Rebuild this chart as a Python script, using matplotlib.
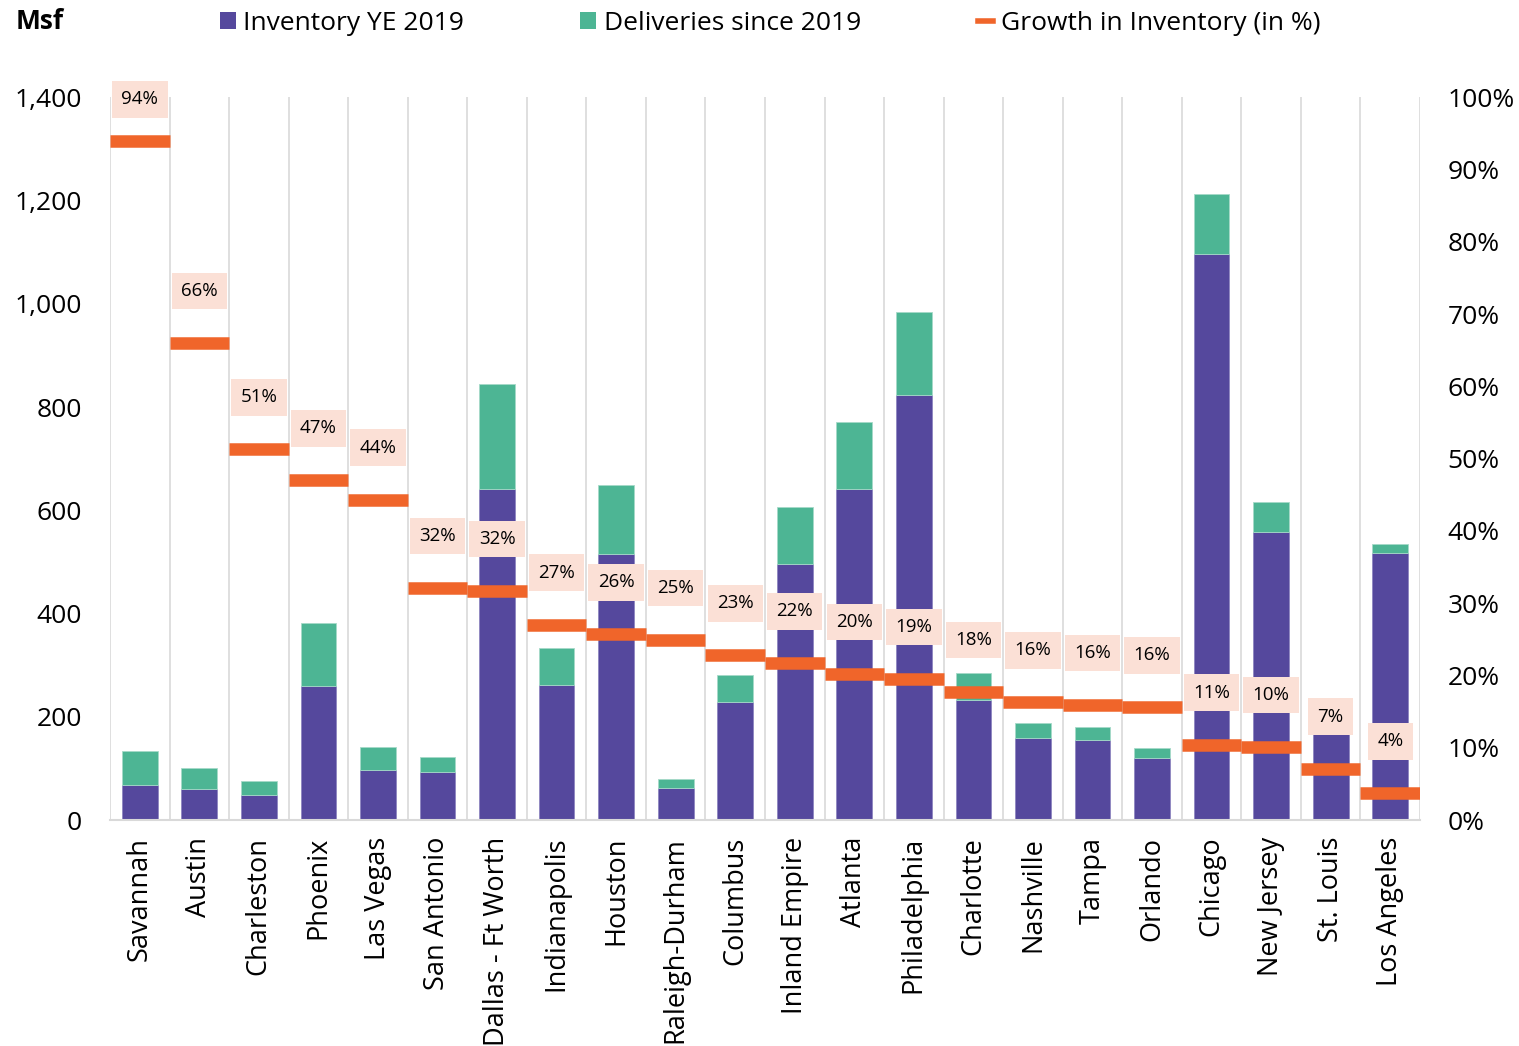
import matplotlib.pyplot as plt
from matplotlib.lines import Line2D
from matplotlib.patches import Patch

plt.rcParams['font.family'] = ['Open Sans', 'DejaVu Sans']

# data
markets = ["Savannah", "Austin", "Charleston", "Phoenix", "Las Vegas", "San Antonio",
           "Dallas - Ft Worth", "Indianapolis", "Houston", "Raleigh-Durham", "Columbus",
           "Inland Empire", "Atlanta", "Philadelphia", "Charlotte", "Nashville", "Tampa",
           "Orlando", "Chicago", "New Jersey", "St. Louis", "Los Angeles"]
inventory = [68, 60, 48, 259, 97, 93, 641, 261, 515, 62, 228,
             496, 641, 823, 232, 159, 155, 120, 1096, 558, 168, 517]
deliveries = [66, 41, 27, 122, 44, 29, 203, 72, 134, 17, 53,
              110, 130, 161, 53, 29, 25, 19, 116, 58, 4, 17]
growth = [94.0, 66.0, 51.3, 47.0, 44.3, 32.1, 31.7, 27.0, 25.7, 24.9, 22.8,
          21.7, 20.2, 19.5, 17.7, 16.3, 15.9, 15.6, 10.4, 10.1, 7.1, 3.7]
growth_labels = ["94%", "66%", "51%", "47%", "44%", "32%", "32%", "27%", "26%", "25%", "23%",
                 "22%", "20%", "19%", "18%", "16%", "16%", "16%", "11%", "10%", "7%", "4%"]

PURPLE = "#55489D"
GREEN = "#4DB594"
ORANGE = "#F0652A"
PEACH = "#FBE0D6"

fig = plt.figure(figsize=(15.19, 10.46), dpi=100)
ax = fig.add_axes([0.0724, 0.216, 0.8624, 0.691])
x = list(range(len(markets)))

ax.bar(x, inventory, width=0.6, color=PURPLE, edgecolor="#8E86C0", linewidth=0.6, zorder=2)
ax.bar(x, deliveries, width=0.6, bottom=inventory, color=GREEN, edgecolor="#A5DAC8",
       linewidth=0.6, zorder=2)

ax.set_ylim(0, 1400)
ax.set_xlim(-0.5, len(markets) - 0.5)
ax.set_yticks(range(0, 1401, 200))
ax.set_yticklabels([f"{v:,}" for v in range(0, 1401, 200)])
ax.tick_params(axis="y", length=0, labelsize=19, pad=20)
ax.set_xticks(x)
ax.set_xticklabels(markets, rotation=90, fontsize=19.5)
ax.tick_params(axis="x", length=0, pad=12)
for i in range(len(markets) + 1):
    ax.axvline(i - 0.5, color="#D9D9D9", lw=1.2, zorder=0)
for s in ["top", "left", "right"]:
    ax.spines[s].set_visible(False)
ax.spines["bottom"].set_color("#D9D9D9")
ax.spines["bottom"].set_linewidth(1.5)

ax2 = ax.twinx()
ax2.set_ylim(0, 100)
ax2.set_yticks(range(0, 101, 10))
ax2.set_yticklabels([f"{v}%" for v in range(0, 101, 10)])
ax2.tick_params(axis="y", length=0, labelsize=19, pad=20)
for s in ["top", "left", "right", "bottom"]:
    ax2.spines[s].set_visible(False)

ax2.hlines(growth, [i - 0.5 for i in x], [i + 0.5 for i in x], color=ORANGE, lw=9, zorder=3)
for i, g, lab in zip(x, growth, growth_labels):
    ax2.text(i, min(g + 7.2, 99.7), lab, ha="center", va="center", fontsize=13.5, zorder=4,
             bbox=dict(boxstyle="square,pad=0.5", fc=PEACH, ec="none"))

fig.text(0.01, 0.979, "Msf", fontsize=19, fontweight="bold", va="center")
handles = [Patch(facecolor=PURPLE, edgecolor="none"),
           Patch(facecolor=GREEN, edgecolor="none"),
           Line2D([0], [0], color=ORANGE, lw=4)]
fig.legend(handles, ["Inventory YE 2019", "Deliveries since 2019", "Growth in Inventory (in %)"],
           loc="center left", bbox_to_anchor=(0.129, 0.978), ncol=3, frameon=False,
           fontsize=19, handlelength=0.6, handleheight=0.6, handletextpad=0.3,
           columnspacing=4.4)

fig.savefig("out.png", dpi=100)
